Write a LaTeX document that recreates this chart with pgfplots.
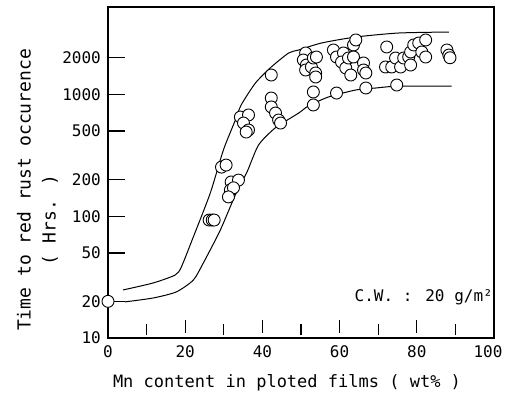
\documentclass[border=0pt]{standalone}
\usepackage{pgfplots}
\pgfplotsset{compat=1.18}
\usepackage{fontspec}
\setmainfont{DejaVu Sans Mono}
\begin{document}
\begin{tikzpicture}
\begin{axis}[
  name=ax,
  scale only axis, width=386pt, height=331pt,
  xmin=0, xmax=100, ymode=log, ymin=10, ymax=5220,
  clip=false,
  axis line style={line width=1.6pt},
  xtick={0,20,40,60,80,100},
  xticklabels={0,20,40,60,80,{\hspace*{-12pt}100}},
  ytick={10,20,50,100,200,500,1000,2000},
  yticklabels={10,20,50,100,200,500,1000,2000},
  major tick length=0pt,
  tick label style={font=\fontsize{16}{16}\selectfont},
  yticklabel style={anchor=east, inner sep=0pt, xshift=-7pt},
  xticklabel style={anchor=north, inner sep=0pt, yshift=-7pt},
  tk/.style={black, line width=1.3pt, forget plot},
]
% y ticks (inside)
\addplot[tk] coordinates {(0,20)(4.4,20)};
\addplot[tk] coordinates {(0,50)(4.4,50)};
\addplot[tk] coordinates {(0,100)(4.4,100)};
\addplot[tk] coordinates {(0,200)(4.4,200)};
\addplot[tk] coordinates {(0,500)(4.4,500)};
\addplot[tk] coordinates {(0,1000)(4.4,1000)};
\addplot[tk] coordinates {(0,2000)(4.4,2000)};
% x major ticks (inside, slightly lifted)
\addplot[tk] coordinates {(20,10.99)(20,14.06)};
\addplot[tk] coordinates {(40,10.99)(40,14.06)};
\addplot[tk] coordinates {(60,10.99)(60,14.06)};
\addplot[tk] coordinates {(80,10.99)(80,14.06)};
% x minor ticks
\addplot[tk] coordinates {(10,10.58)(10,13.03)};
\addplot[tk] coordinates {(30,10.58)(30,13.03)};
\addplot[tk] coordinates {(50,10.58)(50,13.03)};
\addplot[tk] coordinates {(70,10.58)(70,13.03)};
\addplot[tk] coordinates {(90,10.58)(90,13.03)};
% bounds
\addplot[black, line width=1pt, smooth, tension=0.4] coordinates {
(3.9,24.8)(11.7,28.3)(17.4,32.9)(19.0,38.3)(22.1,67.5)(26.5,155)(29.9,350)
(33.0,616)(34.5,819)(38.2,1241)(42.3,1679)(46.8,2188)(49.4,2315)(55.3,2642)
(64.2,2960)(75.3,3192)(88.3,3252)};
\addplot[black, line width=1pt, smooth, tension=0.4] coordinates {
(4.4,19.8)(11.7,21.3)(17.7,23.9)(22.1,29.9)(24.7,41.3)(29.1,77)(33.2,155)
(36,230)(39,384)(43.3,530)(49.4,703)(51.9,803)(57.1,952)(64.2,1087)
(69.4,1129)(75.3,1170)(89,1170)};
\addplot[only marks, mark=*, mark size=6pt, mark options={fill=white, draw=black, line width=0.9pt}] coordinates {
(0,20)
(26.2,93)(27.0,93)(27.5,93)
(29.4,253)(30.6,263)
(31.9,191)(33.8,198)(31.7,164)(32.5,171)(31.2,144)
(34.3,652)(36.4,678)(35.1,582)(36.4,510)(35.8,491)
(42.3,1443)
(42.3,934)(42.3,789)(43.4,703)(44.2,616)(44.7,582)
(51.2,2188)(50.6,1916)(51.4,1743)(51.2,1586)(52.7,1679)(53.2,1990)(54.0,2028)(53.8,1499)(53.8,1390)
(58.4,2315)(59.2,2028)(61.0,2188)(60.5,1845)(61.6,1648)(62.3,1990)(62.9,1443)(63.6,2546)(64.2,2799)(63.6,2028)
(66.2,1811)(66.2,1586)(66.8,1499)
(72.2,2451)(71.9,1679)(73.5,1679)(74.5,1990)(75.8,1679)(76.6,1990)(77.9,2028)(78.4,2230)(79.2,2546)
(80.5,2642)(82.3,2799)(81.3,2230)(82.3,2028)(78.4,1743)
(87.8,2315)(88.3,2104)(88.6,2000)
(53.2,1047)(53.2,819)(59.2,1026)(66.8,1129)(74.8,1194)
};
\end{axis}
\node[font=\fontsize{17}{17}\selectfont] at ([shift={(179pt,-45pt)}]ax.south west) {Mn content in ploted films ( wt\% )};
\node[font=\fontsize{18}{18}\selectfont, rotate=90] at ([shift={(-84pt,148pt)}]ax.south west) {Time to red rust occurence};
\node[font=\fontsize{18}{18}\selectfont, rotate=90] at ([shift={(-58pt,118pt)}]ax.south west) {( Hrs. )};
\node[font=\fontsize{16}{16}\selectfont, anchor=east, inner sep=0pt] at ([shift={(385pt,41pt)}]ax.south west) {C.W. : 20 g/m²};
\pgfresetboundingbox
\path ([shift={(-108pt,-60pt)}]ax.south west) rectangle ([shift={(12pt,7pt)}]ax.north east);
\end{tikzpicture}
\end{document}
